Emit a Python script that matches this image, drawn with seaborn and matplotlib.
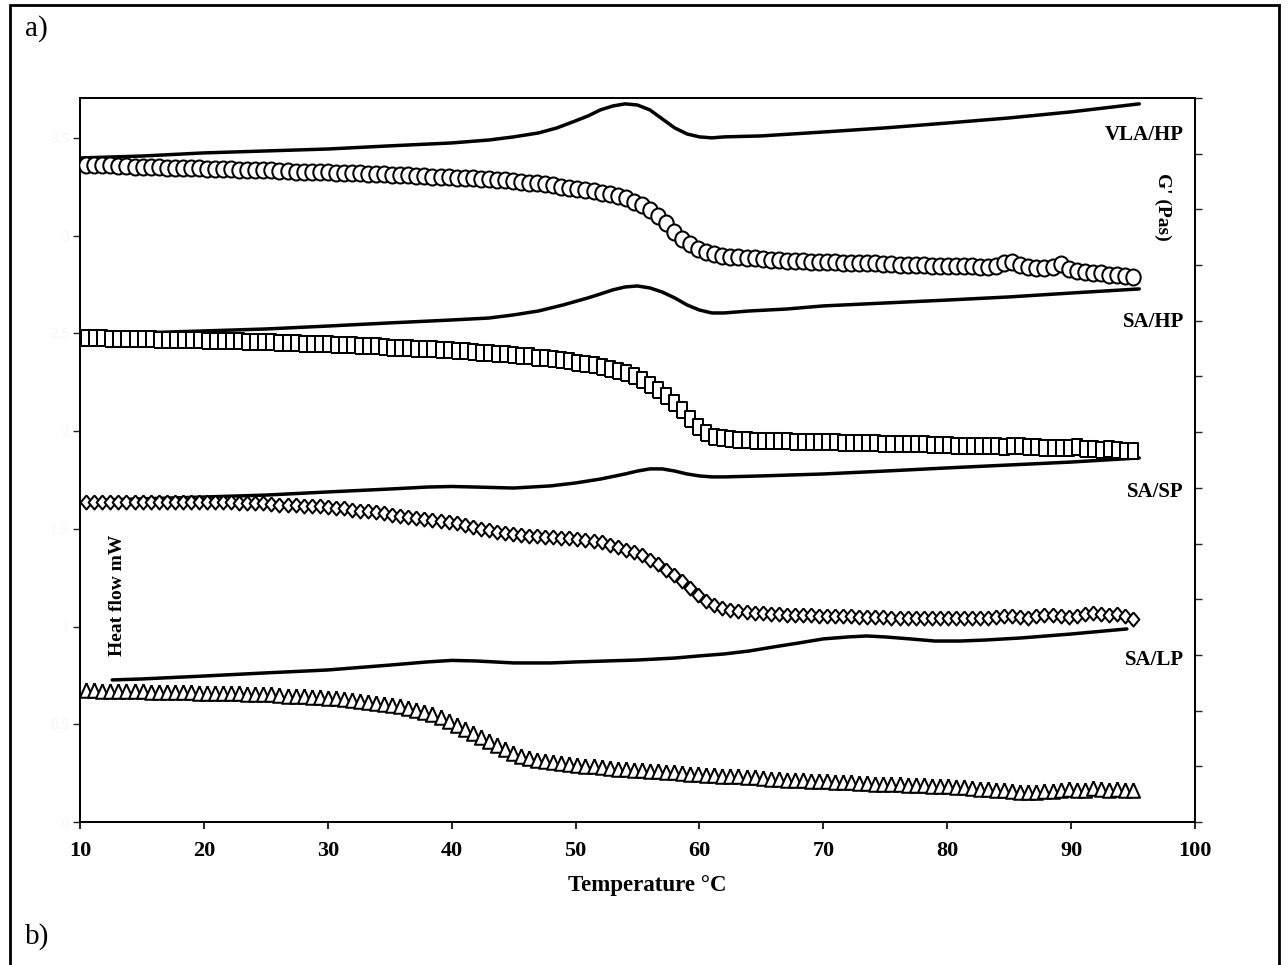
import numpy as np
import matplotlib
matplotlib.use("Agg")
import matplotlib.pyplot as plt
from matplotlib.patches import Rectangle
import seaborn as sns

# ---------------- heat flow (DSC) curves, left axis, mW ----------------
t_vla_hp = [10, 15, 20, 25, 30, 35, 40, 43, 45, 47, 48.5, 50, 51, 52, 53, 54, 55, 56,
            57, 58, 59, 60, 61, 62, 65, 70, 75, 80, 85, 90, 95.5]
hf_vla_hp = [3.398, 3.408, 3.424, 3.434, 3.444, 3.460, 3.475, 3.490, 3.506, 3.526, 3.552,
             3.588, 3.613, 3.644, 3.664, 3.675, 3.669, 3.644, 3.598, 3.552, 3.521, 3.506,
             3.501, 3.506, 3.511, 3.531, 3.552, 3.577, 3.603, 3.634, 3.675]

t_sa_hp = [10, 15, 20, 25, 30, 35, 40, 43, 45, 47, 49, 51, 52, 53, 54, 55, 56, 57, 58,
           59, 60, 61, 62, 64, 67, 70, 75, 80, 85, 90, 95.5]
hf_sa_hp = [2.497, 2.503, 2.513, 2.523, 2.538, 2.554, 2.569, 2.579, 2.595, 2.615, 2.646,
            2.682, 2.702, 2.723, 2.738, 2.743, 2.733, 2.712, 2.682, 2.646, 2.620, 2.605,
            2.605, 2.615, 2.625, 2.641, 2.656, 2.671, 2.687, 2.707, 2.728]

t_sa_sp = [12, 20, 25, 30, 35, 38, 40, 42, 45, 48, 50, 52, 54, 55, 56, 57, 58, 59, 60,
           61, 62, 65, 70, 75, 80, 85, 90, 95.5]
hf_sa_sp = [1.648, 1.663, 1.673, 1.689, 1.704, 1.714, 1.717, 1.714, 1.709, 1.720, 1.735,
            1.755, 1.781, 1.796, 1.807, 1.807, 1.796, 1.781, 1.771, 1.766, 1.766, 1.771,
            1.781, 1.796, 1.812, 1.827, 1.842, 1.863]

t_sa_lp = [12.6, 15, 20, 25, 30, 35, 38, 40, 42, 45, 48, 50, 55, 58, 60, 62, 64, 66, 68,
           70, 72, 73.5, 75, 77, 79, 81, 83, 86, 90, 94.5]
hf_sa_lp = [0.727, 0.732, 0.747, 0.763, 0.778, 0.803, 0.819, 0.827, 0.824, 0.814, 0.814,
            0.819, 0.829, 0.839, 0.850, 0.860, 0.875, 0.896, 0.916, 0.937, 0.947, 0.952,
            0.947, 0.937, 0.926, 0.926, 0.931, 0.942, 0.962, 0.988]

# ---------------- storage modulus G' (rheology), right axis ----------------
# temperature ramp sampled every 0.65 degC from 10.5 to 95 degC
T_START, T_END = 10.5, 95.0

g_vla_hp = [11.80, 11.80, 11.79, 11.79, 11.78, 11.78, 11.77, 11.77, 11.76, 11.76,
            11.75, 11.75, 11.74, 11.74, 11.74, 11.73, 11.73, 11.72, 11.72, 11.71,
            11.71, 11.70, 11.70, 11.70, 11.69, 11.69, 11.68, 11.68, 11.67, 11.67,
            11.67, 11.66, 11.66, 11.65, 11.65, 11.64, 11.63, 11.63, 11.62, 11.61,
            11.61, 11.60, 11.60, 11.59, 11.58, 11.58, 11.57, 11.56, 11.56, 11.55,
            11.54, 11.53, 11.52, 11.51, 11.50, 11.48, 11.47, 11.45, 11.43, 11.41,
            11.39, 11.37, 11.35, 11.33, 11.30, 11.27, 11.24, 11.20, 11.14, 11.07,
            10.99, 10.88, 10.75, 10.60, 10.47, 10.37, 10.28, 10.23, 10.20, 10.17,
            10.15, 10.14, 10.13, 10.12, 10.11, 10.10, 10.09, 10.08, 10.08, 10.07,
            10.06, 10.06, 10.05, 10.05, 10.04, 10.04, 10.03, 10.03, 10.03, 10.02,
            10.02, 10.01, 10.01, 10.00, 10.00, 9.99, 9.99, 9.99, 9.98, 9.98,
            9.98, 9.97, 9.97, 9.99, 10.03, 10.05, 10.00, 9.96, 9.95, 9.95,
            9.97, 10.02, 9.93, 9.90, 9.88, 9.86, 9.85, 9.83, 9.82, 9.80,
            9.79]

g_sa_hp = [8.69, 8.69, 8.69, 8.68, 8.68, 8.68, 8.67, 8.67, 8.67, 8.66,
           8.66, 8.66, 8.65, 8.65, 8.65, 8.64, 8.64, 8.63, 8.63, 8.63,
           8.62, 8.62, 8.61, 8.61, 8.60, 8.60, 8.60, 8.59, 8.59, 8.58,
           8.58, 8.57, 8.57, 8.56, 8.55, 8.55, 8.54, 8.53, 8.52, 8.52,
           8.51, 8.50, 8.49, 8.49, 8.48, 8.47, 8.46, 8.45, 8.44, 8.43,
           8.42, 8.41, 8.40, 8.38, 8.37, 8.36, 8.34, 8.33, 8.31, 8.29,
           8.27, 8.25, 8.23, 8.20, 8.17, 8.13, 8.10, 8.06, 8.00, 7.93,
           7.85, 7.75, 7.65, 7.53, 7.39, 7.24, 7.09, 6.98, 6.92, 6.89,
           6.87, 6.86, 6.86, 6.85, 6.85, 6.85, 6.84, 6.84, 6.83, 6.83,
           6.83, 6.82, 6.82, 6.82, 6.81, 6.81, 6.80, 6.80, 6.80, 6.79,
           6.79, 6.79, 6.78, 6.78, 6.78, 6.77, 6.77, 6.77, 6.76, 6.76,
           6.76, 6.75, 6.75, 6.75, 6.74, 6.76, 6.75, 6.73, 6.73, 6.72,
           6.72, 6.71, 6.72, 6.73, 6.70, 6.69, 6.68, 6.69, 6.68, 6.67,
           6.66]

g_sa_sp = [5.75, 5.75, 5.75, 5.75, 5.75, 5.75, 5.75, 5.75, 5.75, 5.75,
           5.75, 5.75, 5.75, 5.75, 5.75, 5.75, 5.74, 5.74, 5.74, 5.73,
           5.73, 5.72, 5.72, 5.71, 5.70, 5.70, 5.69, 5.68, 5.68, 5.67,
           5.66, 5.64, 5.63, 5.61, 5.59, 5.58, 5.56, 5.54, 5.52, 5.50,
           5.48, 5.46, 5.44, 5.42, 5.40, 5.38, 5.36, 5.33, 5.30, 5.27,
           5.24, 5.21, 5.19, 5.17, 5.16, 5.14, 5.13, 5.12, 5.11, 5.10,
           5.10, 5.09, 5.07, 5.05, 5.02, 4.98, 4.93, 4.89, 4.85, 4.79,
           4.71, 4.63, 4.53, 4.44, 4.33, 4.21, 4.07, 3.96, 3.90, 3.85,
           3.81, 3.79, 3.77, 3.76, 3.75, 3.74, 3.73, 3.72, 3.72, 3.71,
           3.71, 3.70, 3.70, 3.69, 3.69, 3.69, 3.68, 3.68, 3.68, 3.68,
           3.67, 3.67, 3.67, 3.66, 3.66, 3.66, 3.66, 3.66, 3.66, 3.66,
           3.66, 3.66, 3.67, 3.68, 3.69, 3.70, 3.68, 3.67, 3.69, 3.71,
           3.72, 3.70, 3.68, 3.70, 3.73, 3.76, 3.74, 3.72, 3.74, 3.70,
           3.64]

g_sa_lp = [2.37, 2.37, 2.36, 2.36, 2.36, 2.35, 2.35, 2.35, 2.34, 2.34,
           2.34, 2.33, 2.33, 2.33, 2.32, 2.32, 2.32, 2.31, 2.31, 2.31,
           2.30, 2.30, 2.29, 2.29, 2.28, 2.27, 2.26, 2.26, 2.25, 2.24,
           2.23, 2.22, 2.21, 2.19, 2.17, 2.15, 2.13, 2.11, 2.10, 2.08,
           2.05, 2.02, 1.98, 1.94, 1.89, 1.82, 1.74, 1.67, 1.60, 1.53,
           1.46, 1.39, 1.31, 1.24, 1.19, 1.15, 1.12, 1.10, 1.08, 1.06,
           1.04, 1.03, 1.01, 1.00, 0.98, 0.97, 0.96, 0.95, 0.94, 0.93,
           0.92, 0.91, 0.90, 0.89, 0.88, 0.87, 0.86, 0.85, 0.84, 0.83,
           0.83, 0.82, 0.81, 0.80, 0.79, 0.78, 0.77, 0.76, 0.76, 0.75,
           0.74, 0.74, 0.73, 0.72, 0.72, 0.71, 0.70, 0.70, 0.69, 0.69,
           0.68, 0.68, 0.67, 0.67, 0.66, 0.65, 0.65, 0.64, 0.63, 0.62,
           0.61, 0.60, 0.59, 0.58, 0.57, 0.55, 0.54, 0.53, 0.53, 0.55,
           0.56, 0.58, 0.60, 0.57, 0.58, 0.61, 0.59, 0.58, 0.59, 0.58,
           0.58]

sample_names = ["VLA/HP", "SA/HP", "SA/SP", "SA/LP"]
x_ticks = [10, 20, 30, 40, 50, 60, 70, 80, 90, 100]
hf_ticks = [0, 0.5, 1, 1.5, 2, 2.5, 3, 3.5]
hf_tick_labels = ["0", "0.5", "1", "1.5", "2", "2.5", "3", "3.5"]
g_ticks = list(range(0, 14))

# ---------------- figure ----------------
sns.set_theme(style="white")
plt.rcParams["font.family"] = ["Liberation Serif", "DejaVu Serif"]
plt.rcParams["font.weight"] = "bold"
plt.rcParams["text.color"] = "black"
plt.rcParams["axes.labelcolor"] = "black"
plt.rcParams["xtick.color"] = "black"
plt.rcParams["ytick.color"] = "black"

W, H = 1288, 965
fig = plt.figure(figsize=(W / 100, H / 100), dpi=100)
fig.patch.set_facecolor("white")


def fx(px):
    return px / W


def fy(py):
    return 1 - py / H


ax = fig.add_axes([fx(80), fy(822), fx(1195) - fx(80), fy(98) - fy(822)])
ax2 = ax.twinx()

# heat flow traces
for t, hf in [(t_vla_hp, hf_vla_hp), (t_sa_hp, hf_sa_hp),
              (t_sa_sp, hf_sa_sp), (t_sa_lp, hf_sa_lp)]:
    sns.lineplot(x=t, y=hf, ax=ax, color="black", linewidth=2.5,
                 estimator=None, sort=False, legend=False)

# open-marker G' traces (slightly tall markers)
ell = matplotlib.path.Path.unit_circle().transformed(
    matplotlib.transforms.Affine2D().scale(0.9, 1.0))
rect = [(-0.34, -0.5), (0.34, -0.5), (0.34, 0.5), (-0.34, 0.5), (-0.34, -0.5)]
diam = [(0, 0.5), (0.42, 0), (0, -0.5), (-0.42, 0), (0, 0.5)]
tri = [(0, 0.5), (0.45, -0.5), (-0.45, -0.5), (0, 0.5)]

series = [(g_vla_hp, ell, 16.0), (g_sa_hp, rect, 16.0),
          (g_sa_sp, diam, 14.0), (g_sa_lp, tri, 14.5)]
for g, mk, size_px in series:
    temps = np.linspace(T_START, T_END, len(g))
    s = (size_px * 0.72) ** 2
    sns.scatterplot(x=temps, y=g, ax=ax2, marker=mk, s=s, color="white",
                    edgecolor="black", linewidth=1.45, legend=False, zorder=3)

ax.set_xlim(10, 100)
ax.set_ylim(0, 3.705)
ax2.set_ylim(0, 13)

ax.set_xticks(x_ticks)
ax.set_xticklabels([str(v) for v in x_ticks], fontsize=16, fontweight="bold")
ax.set_yticks(hf_ticks)
ax.set_yticklabels(hf_tick_labels, fontsize=11, color="#f6f6f6", fontweight="normal")
ax2.set_yticks(g_ticks)
ax2.set_yticklabels([])

for a in (ax, ax2):
    for sp in a.spines.values():
        sp.set_color("black")
        sp.set_linewidth(1.3)
ax.tick_params(axis="x", direction="out", length=5, width=1.2, color="black", pad=8.5)
ax.tick_params(axis="y", direction="out", length=5, width=1.0, color="#222222", pad=3)
ax2.tick_params(axis="y", direction="out", length=5, width=1.0, color="#222222",
                right=True, left=False)
ax.tick_params(axis="x", bottom=True)
ax.set_xlabel("")
ax.set_ylabel("")
ax2.set_ylabel("")
ax.grid(False)
ax2.grid(False)

fig.text(fx(647), fy(885), "Temperature °C", ha="center", va="center",
         fontsize=16.5, fontweight="bold")

# sample names on the right
label_y = [135, 322, 492, 660]
for name, py in zip(sample_names, label_y):
    fig.text(fx(1184), fy(py), name, ha="right", va="center",
             fontsize=15, fontweight="bold")

fig.text(fx(1163), fy(207), "G' (Pas)", rotation=270, ha="center", va="center",
         fontsize=14, fontweight="bold")
fig.text(fx(117), fy(595), "Heat flow mW", rotation=90, ha="center", va="center",
         fontsize=14, fontweight="bold")

# panel letters and frame
fig.text(fx(25), fy(36), "a)", ha="left", va="baseline", fontsize=21,
         fontweight="normal")
fig.text(fx(25), fy(944), "b)", ha="left", va="baseline", fontsize=21,
         fontweight="normal")
fig.patches.append(Rectangle((fx(10), -0.02), fx(1279) - fx(10), fy(5) + 0.02,
                             transform=fig.transFigure, fill=False,
                             edgecolor="black", linewidth=2.0))

fig.savefig("out.png", dpi=100, facecolor="white")
